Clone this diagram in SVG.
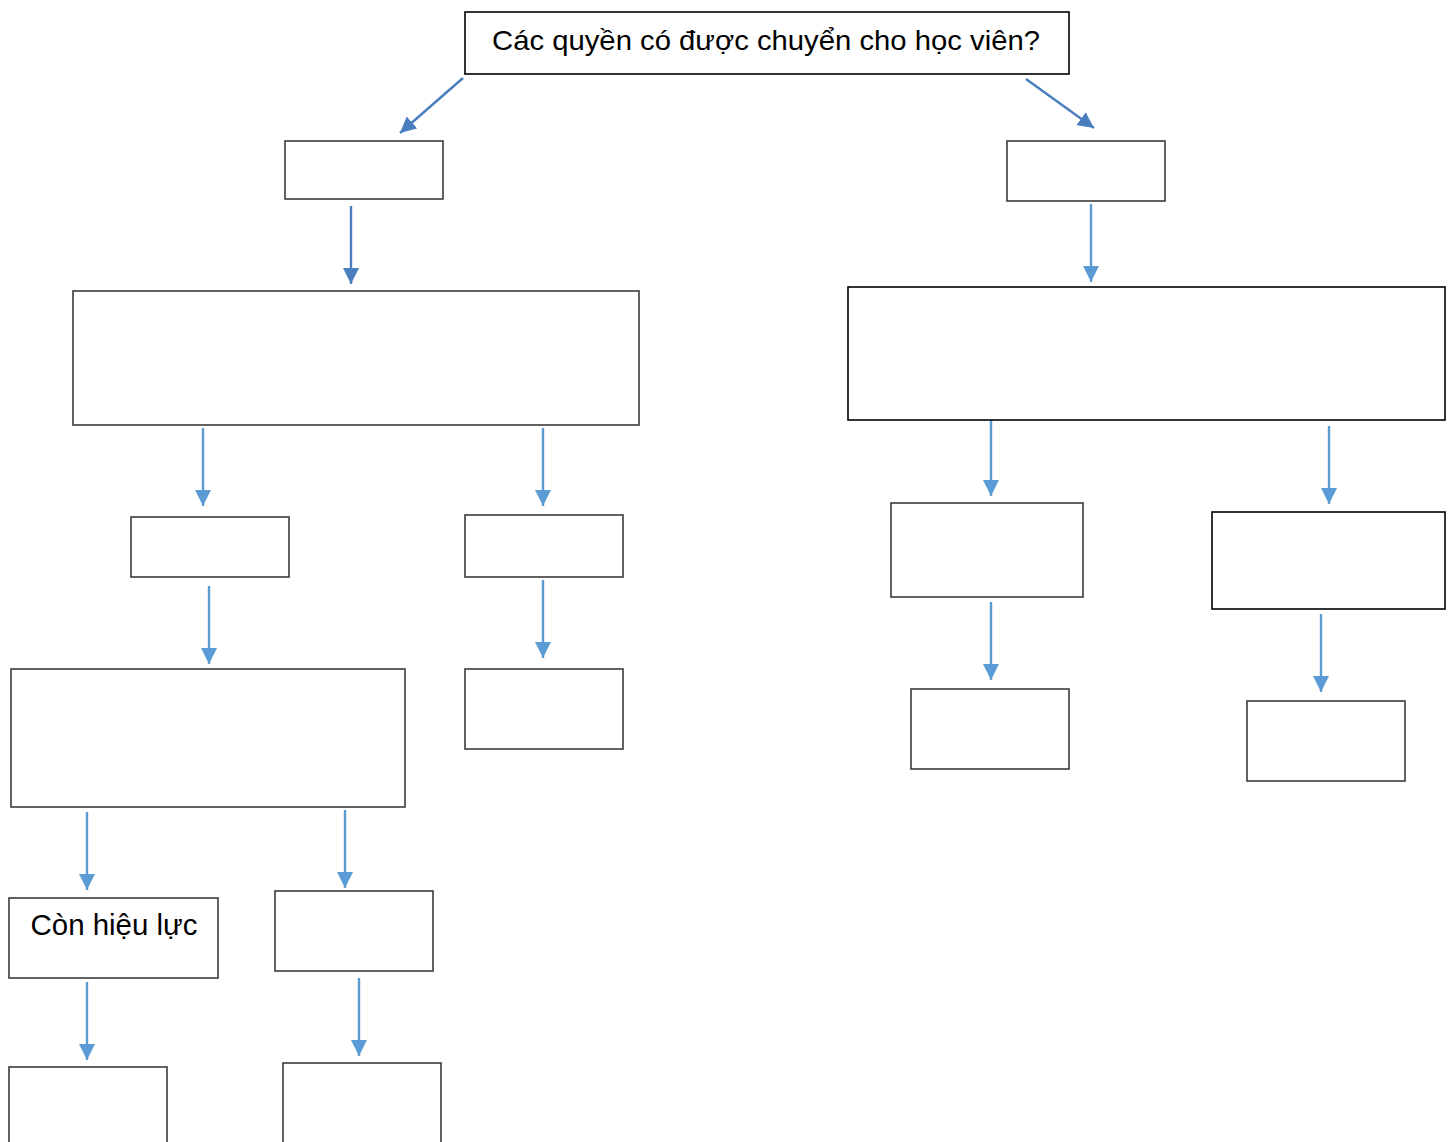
<svg xmlns="http://www.w3.org/2000/svg" width="1450" height="1142" viewBox="0 0 1450 1142">
<style>
.box{fill:#fff;stroke:#3a3a3a;stroke-width:1.6}
.box.k{stroke:#000}
.lbl{font-family:"Liberation Sans",Arial,sans-serif;fill:#000}
.c1{stroke:#4a7ebf;stroke-width:2.4;fill:none}
.c2{stroke:#5b9bd5;stroke-width:2.4;fill:none}
</style>
<defs>
<marker id="ah1" markerUnits="userSpaceOnUse" markerWidth="16" markerHeight="16" viewBox="0 0 16 16" refX="16" refY="8" orient="auto">
<path d="M0,0 L16,8 L0,16 Z" fill="#4a7ebf"/>
</marker>
<marker id="ah2" markerUnits="userSpaceOnUse" markerWidth="16" markerHeight="16" viewBox="0 0 16 16" refX="16" refY="8" orient="auto">
<path d="M0,0 L16,8 L0,16 Z" fill="#5b9bd5"/>
</marker>
</defs>
<rect width="1450" height="1142" fill="#fff"/>
<g id="connectors">
<line class="c1" x1="463" y1="78" x2="400" y2="133" marker-end="url(#ah1)"/>
<line class="c1" x1="1026" y1="79" x2="1094" y2="128" marker-end="url(#ah1)"/>
<line class="c1" x1="351" y1="206" x2="351" y2="284" marker-end="url(#ah1)"/>
<line class="c2" x1="1091" y1="204" x2="1091" y2="282" marker-end="url(#ah2)"/>
<line class="c2" x1="203" y1="428" x2="203" y2="506" marker-end="url(#ah2)"/>
<line class="c2" x1="543" y1="428" x2="543" y2="506" marker-end="url(#ah2)"/>
<line class="c2" x1="991" y1="418" x2="991" y2="496" marker-end="url(#ah2)"/>
<line class="c2" x1="1329" y1="426" x2="1329" y2="504" marker-end="url(#ah2)"/>
<line class="c2" x1="209" y1="586" x2="209" y2="664" marker-end="url(#ah2)"/>
<line class="c2" x1="543" y1="580" x2="543" y2="658" marker-end="url(#ah2)"/>
<line class="c2" x1="991" y1="602" x2="991" y2="680" marker-end="url(#ah2)"/>
<line class="c2" x1="1321" y1="614" x2="1321" y2="692" marker-end="url(#ah2)"/>
<line class="c2" x1="87" y1="812" x2="87" y2="890" marker-end="url(#ah2)"/>
<line class="c2" x1="345" y1="810" x2="345" y2="888" marker-end="url(#ah2)"/>
<line class="c2" x1="87" y1="982" x2="87" y2="1060" marker-end="url(#ah2)"/>
<line class="c2" x1="359" y1="978" x2="359" y2="1056" marker-end="url(#ah2)"/>
</g>
<g id="n-root"><rect class="box k" x="465" y="12" width="604" height="62"/>
<text class="lbl" x="766" y="50" font-size="28" text-anchor="middle" textLength="548" lengthAdjust="spacingAndGlyphs">Các quyền có được chuyển cho học viên?</text></g>
<g id="n-a"><rect class="box" x="285" y="141" width="158" height="58"/></g>
<g id="n-b"><rect class="box" x="1007" y="141" width="158" height="60"/></g>
<g id="n-c"><rect class="box" x="73" y="291" width="566" height="134"/></g>
<g id="n-d"><rect class="box k" x="848" y="287" width="597" height="133"/></g>
<g id="n-e"><rect class="box" x="131" y="517" width="158" height="60"/></g>
<g id="n-f"><rect class="box" x="465" y="515" width="158" height="62"/></g>
<g id="n-g"><rect class="box" x="11" y="669" width="394" height="138"/></g>
<g id="n-h"><rect class="box" x="465" y="669" width="158" height="80"/></g>
<g id="n-i"><rect class="box" x="891" y="503" width="192" height="94"/></g>
<g id="n-j"><rect class="box k" x="1212" y="512" width="233" height="97"/></g>
<g id="n-k"><rect class="box" x="911" y="689" width="158" height="80"/></g>
<g id="n-l"><rect class="box" x="1247" y="701" width="158" height="80"/></g>
<g id="n-m"><rect class="box" x="9" y="898" width="209" height="80"/>
<text class="lbl" x="114" y="935" font-size="29" text-anchor="middle" textLength="167" lengthAdjust="spacingAndGlyphs">Còn hiệu lực</text></g>
<g id="n-n"><rect class="box" x="275" y="891" width="158" height="80"/></g>
<g id="n-o"><rect class="box" x="9" y="1067" width="158" height="90"/></g>
<g id="n-p"><rect class="box" x="283" y="1063" width="158" height="94"/></g>
</svg>
